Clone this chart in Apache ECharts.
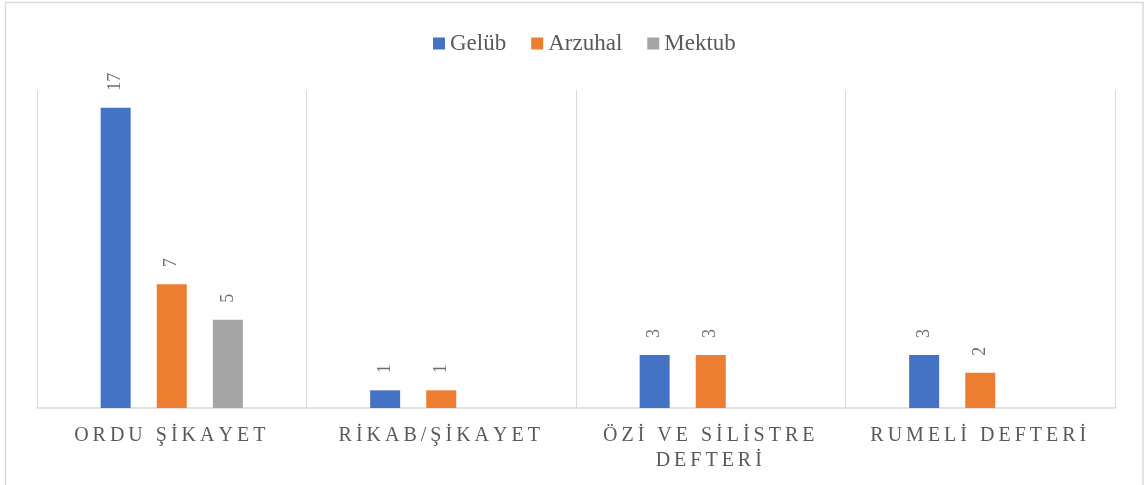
<!DOCTYPE html>
<html>
<head>
<meta charset="utf-8">
<script src="https://cdn.jsdelivr.net/npm/echarts@6/dist/echarts.min.js"></script>
<style>
  html, body { margin: 0; padding: 0; background: #ffffff; }
  #chart { width: 1144px; height: 485px; }
</style>
</head>
<body>
<div id="chart"></div>
<script>
// Document categories (the third name breaks onto two lines)
const categories = ['ORDU ŞİKAYET', 'RİKAB/ŞİKAYET', 'ÖZİ VE SİLİSTRE\nDEFTERİ', 'RUMELİ DEFTERİ'];
// Counts per document type; null = no entry
const gelub   = [17, 1, 3, 3];
const arzuhal = [7, 1, 3, 2];
const mektub  = [5, null, null, null];

const seriesNames = ['Gelüb', 'Arzuhal', 'Mektub'];
const seriesColors = ['#4472C4', '#ED7D31', '#A5A5A5'];

const serif = "'Liberation Serif', 'Times New Roman', serif";
const textGray = '#595959';

// Spread each character of an axis label apart (letter-spaced caps)
function spaced(value) {
  return value.split('\n').map(line =>
    Array.from(line).map(ch => '{s|' + ch + '}').join('')
  ).join('\n');
}

function barSeries(name, data, color) {
  return {
    name: name,
    type: 'bar',
    data: data,
    barWidth: 30,
    barGap: '87%',
    itemStyle: { color: color },
    label: {
      show: true,
      position: 'top',
      rotate: 90,
      align: 'left',
      verticalAlign: 'middle',
      distance: 17,
      fontFamily: serif,
      fontSize: 18,
      color: '#6f6f6f'
    }
  };
}

const chart = echarts.init(document.getElementById('chart'), null, { renderer: 'canvas' });
chart.setOption({
  animation: false,
  backgroundColor: '#ffffff',
  graphic: [{
    type: 'rect',
    shape: { x: 5.5, y: 2.5, width: 1137.5, height: 520 },
    style: { fill: 'none', stroke: '#d9d9d9', lineWidth: 1.5 },
    silent: true
  }],
  legend: {
    top: 27,
    left: 428,
    itemWidth: 12,
    itemHeight: 12,
    itemGap: 25,
    icon: 'rect',
    textStyle: { fontFamily: serif, fontSize: 23, color: textGray },
    data: seriesNames
  },
  grid: { left: 37, right: 29, top: 90, bottom: 77 },
  xAxis: {
    type: 'category',
    data: categories,
    axisLine: { show: true, lineStyle: { color: '#d9d9d9', width: 1.5 } },
    axisTick: { show: false },
    splitLine: { show: true, lineStyle: { color: '#d9d9d9', width: 1 } },
    axisLabel: {
      margin: 15,
      interval: 0,
      formatter: spaced,
      rich: {
        s: {
          fontFamily: serif,
          fontSize: 20,
          color: textGray,
          padding: [0, 4, 0, 0],
          lineHeight: 25
        }
      }
    }
  },
  yAxis: {
    type: 'value',
    min: 0,
    max: 18,
    show: false,
    splitLine: { show: false }
  },
  series: [
    barSeries(seriesNames[0], gelub, seriesColors[0]),
    barSeries(seriesNames[1], arzuhal, seriesColors[1]),
    barSeries(seriesNames[2], mektub, seriesColors[2])
  ]
});
</script>
</body>
</html>
